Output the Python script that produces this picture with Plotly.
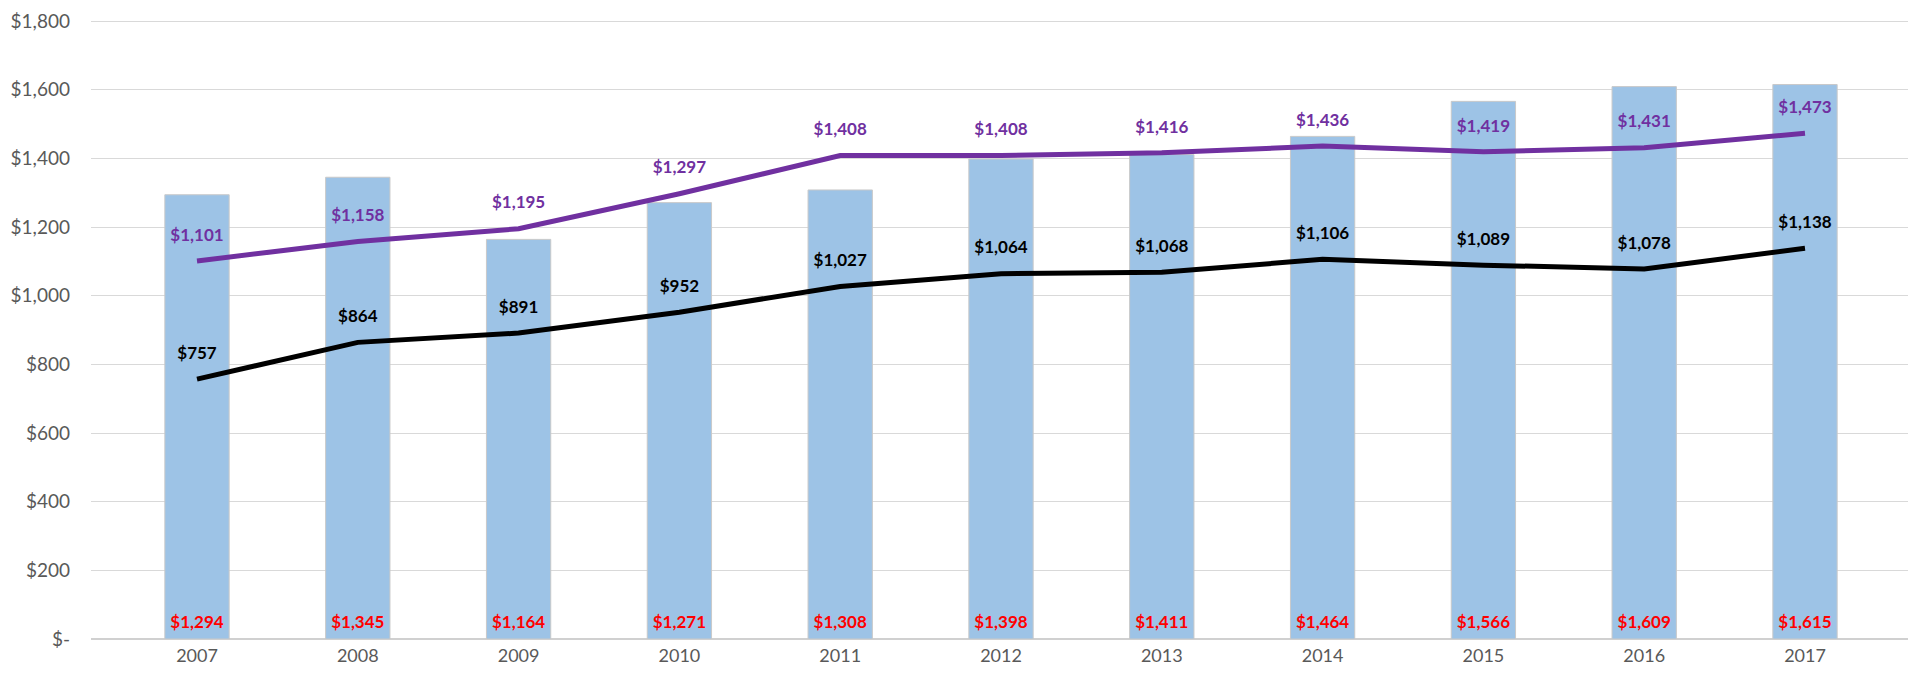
import plotly.graph_objects as go

years = ["2007", "2008", "2009", "2010", "2011", "2012", "2013", "2014", "2015", "2016", "2017"]
bar_values = [1294, 1345, 1164, 1271, 1308, 1398, 1411, 1464, 1566, 1609, 1615]
purple_values = [1101, 1158, 1195, 1297, 1408, 1408, 1416, 1436, 1419, 1431, 1473]
black_values = [757, 864, 891, 952, 1027, 1064, 1068, 1106, 1089, 1078, 1138]
y_tickvals = [0, 200, 400, 600, 800, 1000, 1200, 1400, 1600, 1800]
y_ticktext = ["$-", "$200", "$400", "$600", "$800", "$1,000", "$1,200", "$1,400", "$1,600", "$1,800"]

def money(v):
    return "${:,}".format(v)

FONT = "Lato, Open Sans, sans-serif"

fig = go.Figure()
fig.add_trace(go.Bar(
    x=years, y=bar_values,
    marker=dict(color="#9DC3E6", line=dict(color="#C9C9C9", width=1)),
    hoverinfo="skip",
))
# bar value labels at the base of each bar
fig.add_trace(go.Scatter(
    x=years, y=[0] * len(years), mode="markers+text",
    marker=dict(size=10, color="rgba(0,0,0,0)"),
    text=[money(v) for v in bar_values],
    textposition="top center",
    textfont=dict(color="#FF0000", size=17, family=FONT, weight="bold"),
    cliponaxis=False, hoverinfo="skip",
))
fig.add_trace(go.Scatter(
    x=years, y=purple_values, mode="lines+markers+text",
    line=dict(color="#7030A0", width=5),
    marker=dict(size=24, color="rgba(0,0,0,0)"),
    text=[money(v) for v in purple_values],
    textposition="top center",
    textfont=dict(color="#7030A0", size=17, family=FONT, weight="bold"),
    cliponaxis=False,
))
fig.add_trace(go.Scatter(
    x=years, y=black_values, mode="lines+markers+text",
    line=dict(color="#000000", width=5),
    marker=dict(size=24, color="rgba(0,0,0,0)"),
    text=[money(v) for v in black_values],
    textposition="top center",
    textfont=dict(color="#000000", size=17, family=FONT, weight="bold"),
    cliponaxis=False,
))

fig.update_layout(
    width=1908, height=660,
    margin=dict(l=83, r=5, t=12, b=29),
    plot_bgcolor="white", paper_bgcolor="white",
    showlegend=False,
    bargap=0.6,
    font=dict(family=FONT, color="#595959", size=18),
)
fig.update_yaxes(
    range=[0, 1803], tickvals=y_tickvals, ticktext=y_ticktext,
    showgrid=True, gridcolor="#D9D9D9", gridwidth=1,
    zeroline=True, zerolinecolor="#D0D0D0", zerolinewidth=2,
    showline=False, ticks="", ticklabelstandoff=20,
    ticklabeloverflow="allow",
    tickfont=dict(size=19, color="#595959"),
    automargin=False,
)
fig.update_xaxes(
    showgrid=False, showline=False, ticks="",
    ticklabelstandoff=4,
    tickfont=dict(size=18, color="#595959"),
    automargin=False,
)

fig.write_html("out.html")
